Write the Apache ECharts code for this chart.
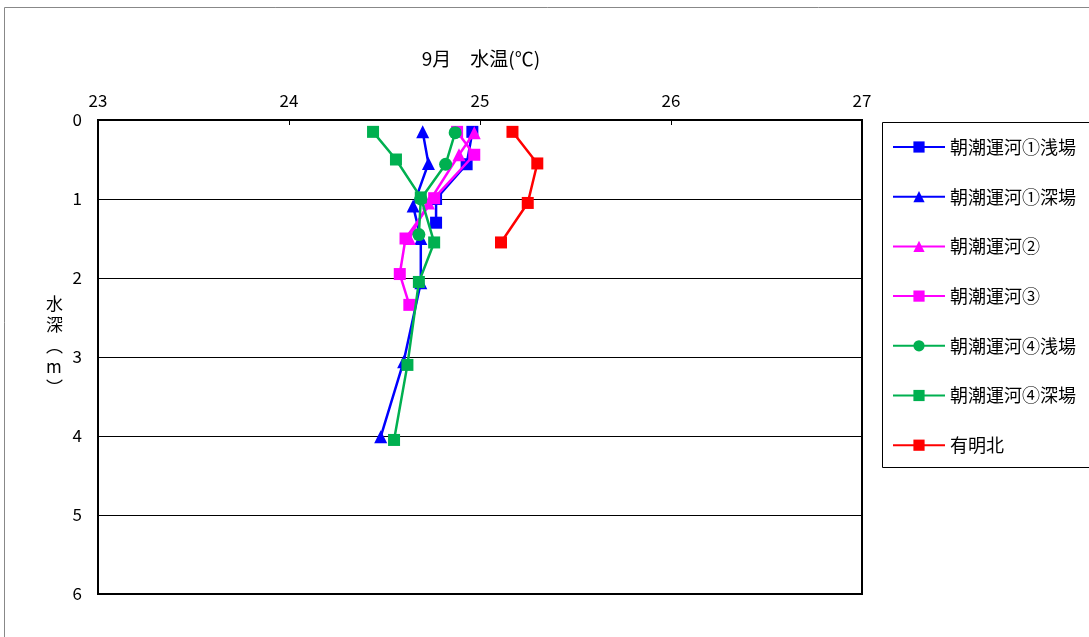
<!DOCTYPE html>
<html><head><meta charset="utf-8">
<script src="https://cdn.jsdelivr.net/npm/echarts@6/dist/echarts.min.js"></script>
<style>html,body{margin:0;padding:0;background:#fff}#c{width:1089px;height:637px}</style>
</head><body><div id="c"></div>
<script>
const FONT = '"Noto Sans CJK JP", "Noto Sans", sans-serif';
const xTicks = [23, 24, 25, 26, 27];
const yTicks = [0, 1, 2, 3, 4, 5, 6];
const seriesNames = ['朝潮運河①浅場','朝潮運河①深場','朝潮運河②','朝潮運河③','朝潮運河④浅場','朝潮運河④深場','有明北'];
// [temperature, depth]
const s1 = [[24.96,0.15],[24.93,0.56],[24.77,1.0],[24.77,1.3]];
const s2 = [[24.70,0.15],[24.73,0.55],[24.65,1.09],[24.69,1.5],[24.69,2.06],[24.60,3.06],[24.48,4.01]];
const s3 = [[24.97,0.16],[24.89,0.44],[24.73,1.05],[24.63,1.5]];
const s4 = [[24.88,0.15],[24.97,0.44],[24.76,0.99],[24.61,1.5],[24.58,1.95],[24.63,2.34]];
const s5 = [[24.87,0.16],[24.82,0.56],[24.69,1.0],[24.68,1.45]];
const s6 = [[24.44,0.15],[24.56,0.5],[24.69,0.98],[24.76,1.55],[24.68,2.05],[24.62,3.1],[24.55,4.05]];
const s7 = [[25.17,0.15],[25.30,0.55],[25.25,1.05],[25.11,1.55]];
const allData = [s1,s2,s3,s4,s5,s6,s7];
const colors = ['#0000FF','#0000FF','#FF00FF','#FF00FF','#00B050','#00B050','#FF0000'];
const symbols = ['rect','triangle','triangle','rect','circle','rect','rect'];
const sizes = [12,13,13,12,13,12,12];

const chart = echarts.init(document.getElementById('c'), null, {renderer:'canvas'});
chart.setOption({
  animation:false,
  backgroundColor:'#fff',
  title:{text:'9月　水温(℃)', left:476, top:44, textAlign:'center',
    textStyle:{fontFamily:FONT, fontSize:19, fontWeight:'normal', color:'#000'}},
  grid:{left:98, top:120, right:227, bottom:43, show:true, borderColor:'#000', borderWidth:2, backgroundColor:'transparent'},
  xAxis:{type:'value', position:'top', min:xTicks[0], max:xTicks[xTicks.length-1], interval:1,
    axisLine:{show:true, lineStyle:{color:'#000', width:2}},
    axisTick:{show:true, inside:true, length:5, lineStyle:{color:'#000'}},
    axisLabel:{color:'#000', fontFamily:FONT, fontSize:17, margin:11},
    splitLine:{show:false}},
  yAxis:{type:'value', inverse:true, min:yTicks[0], max:yTicks[yTicks.length-1], interval:1,
    axisLine:{show:true, lineStyle:{color:'#000', width:2}},
    axisTick:{show:false},
    axisLabel:{color:'#000', fontFamily:FONT, fontSize:17, margin:16},
    splitLine:{show:true, lineStyle:{color:'#000', width:1}}},
  legend:{orient:'vertical', left:887, top:133, itemGap:31.7, itemWidth:52, itemHeight:14,
    textStyle:{fontFamily:FONT, fontSize:18, color:'#000'},
    data:seriesNames},
  graphic:[
    {type:'rect', shape:{x:4.5, y:7.5, width:1200, height:700}, style:{fill:'none', stroke:'#888', lineWidth:1}, silent:true},
    {type:'rect', shape:{x:882.5, y:122.5, width:300, height:345}, style:{fill:'none', stroke:'#000', lineWidth:1}, silent:true},
    {type:'text', left:46, top:293, style:{text:'水\n深\n︵\nm\n︶', fontFamily:FONT, fontSize:17, lineHeight:21, fill:'#000', align:'center'}}
  ],
  series: allData.map((d,i)=>({
    name:seriesNames[i], type:'line', data:d,
    symbol:symbols[i], symbolSize:sizes[i],
    itemStyle:{color:colors[i]},
    lineStyle:{color:colors[i], width:2.5},
    z:2+i
  }))
});
</script></body></html>
